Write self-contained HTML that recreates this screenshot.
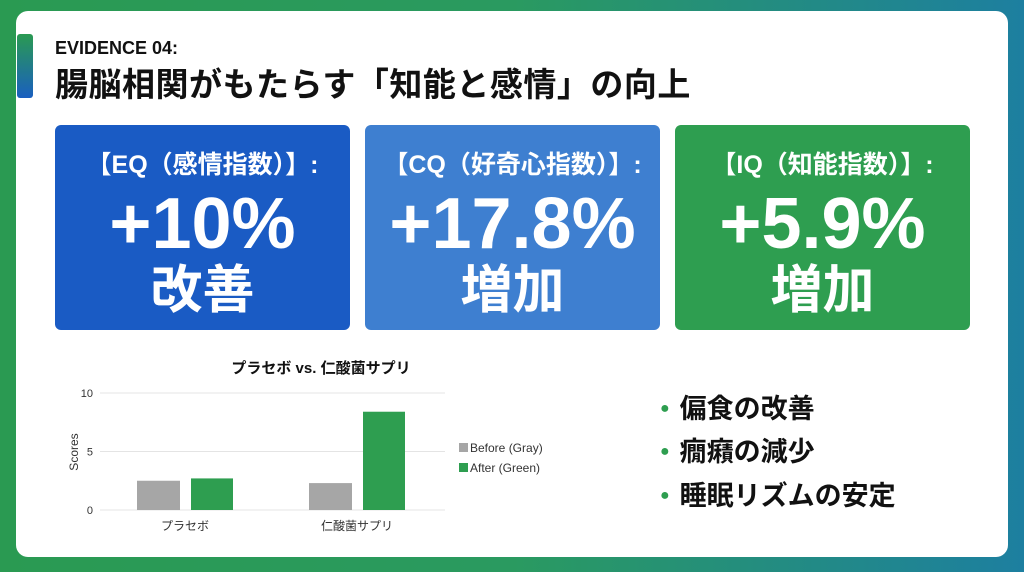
<!DOCTYPE html>
<html><head><meta charset="utf-8"><style>
body{margin:0;width:1024px;height:572px;overflow:hidden;background:linear-gradient(90deg,#2a9a52 0%,#2a9a60 50%,#1d7fa0 100%);font-family:"Liberation Sans","Noto Sans CJK JP",sans-serif;position:relative}
.card{position:absolute;left:16px;top:11px;width:992px;height:546px;background:#fff;border-radius:12px}
.accent{position:absolute;left:17px;top:34px;width:16px;height:64px;border-radius:3px;background:linear-gradient(#2a9a52,#1a5fc0)}
.h1{position:absolute;left:55px;top:38px;font-size:18px;font-weight:bold;color:#111}
.h2{position:absolute;left:55px;top:58px;font-size:33px;font-weight:bold;color:#111;letter-spacing:0.5px}
.kpi{position:absolute;top:125px;width:295px;height:205px;border-radius:6px;color:#fff;text-align:center;font-weight:bold}
.kpi .t{margin-top:20px;font-size:25px}.kpi .v{font-size:72px;line-height:74px;margin-top:6px}.kpi .u{font-size:52px;line-height:60px}
.bul{position:absolute;left:660px;font-size:27px;font-weight:bold;color:#111}
.bul span{color:#2e9e50;font-size:16px;margin-right:10px;vertical-align:5px}
</style></head><body>
<div class="card"></div>
<div class="accent"></div>
<div class="h1">EVIDENCE 04:</div>
<div class="h2">腸脳相関がもたらす「知能と感情」の向上</div>
<div class="kpi" style="left:55px;background:#1a5bc4"><div class="t">【EQ（感情指数）】:</div><div class="v">+10%</div><div class="u">改善</div></div>
<div class="kpi" style="left:365px;background:#3e7fd0"><div class="t">【CQ（好奇心指数）】:</div><div class="v">+17.8%</div><div class="u">増加</div></div>
<div class="kpi" style="left:675px;background:#2e9e50"><div class="t">【IQ（知能指数）】:</div><div class="v">+5.9%</div><div class="u">増加</div></div>
<div class="bul" style="top:387px"><span>●</span>偏食の改善</div>
<div class="bul" style="top:430px"><span>●</span>癇癪の減少</div>
<div class="bul" style="top:474px"><span>●</span>睡眠リズムの安定</div>
<svg id="ch" width="1024" height="572" style="position:absolute;left:0;top:0"></svg>
<script>
const categories=["プラセボ","仁酸菌サプリ"];
const beforeVals=[2.5,2.3];
const afterVals=[2.7,8.4];
const yTicks=[0,5,10];
const seriesNames=["Before (Gray)","After (Green)"];
const svg=document.getElementById('ch');const NS="http://www.w3.org/2000/svg";
function y(v){return 510-v*11.7;}
function cx(i){return 185+i*172;}
function mk(t,a,txt){const e=document.createElementNS(NS,t);for(const k in a)e.setAttribute(k,a[k]);if(txt!==undefined)e.textContent=txt;svg.appendChild(e);return e;}
const tt=mk('text',{x:321,y:373,'text-anchor':'middle','font-size':15,'font-weight':'bold',fill:'#111','font-family':'Liberation Sans,Noto Sans CJK JP,sans-serif'},'プラセボ vs. 仁酸菌サプリ');


yTicks.forEach(v=>{
const l=mk('line',{x1:100,x2:445,y1:y(v),y2:y(v),stroke:'#e4e4e4'});


const t=mk('text',{x:93,y:y(v)+4,'text-anchor':'end','font-size':11,fill:'#333'},v);


});
const yt=mk('text',{x:78,y:452,'text-anchor':'middle','font-size':12,fill:'#333',transform:'rotate(-90 78 452)'},'Scores');


categories.forEach((c,i)=>{
const b=mk('rect',{x:cx(i)-48,y:y(beforeVals[i]),width:43,height:y(0)-y(beforeVals[i]),fill:'#a6a6a6'});


const a=mk('rect',{x:cx(i)+6,y:y(afterVals[i]),width:42,height:y(0)-y(afterVals[i]),fill:'#2e9e50'});


const t=mk('text',{x:cx(i),y:530,'text-anchor':'middle','font-size':12,fill:'#333'},c);


});
seriesNames.forEach((n,i)=>{
const r=mk('rect',{x:459,y:443+i*20,width:9,height:9,fill:i?'#2e9e50':'#a6a6a6'});


const t=mk('text',{x:470,y:452+i*20,'font-size':12,fill:'#333'},n);


});
</script>
</body></html>
